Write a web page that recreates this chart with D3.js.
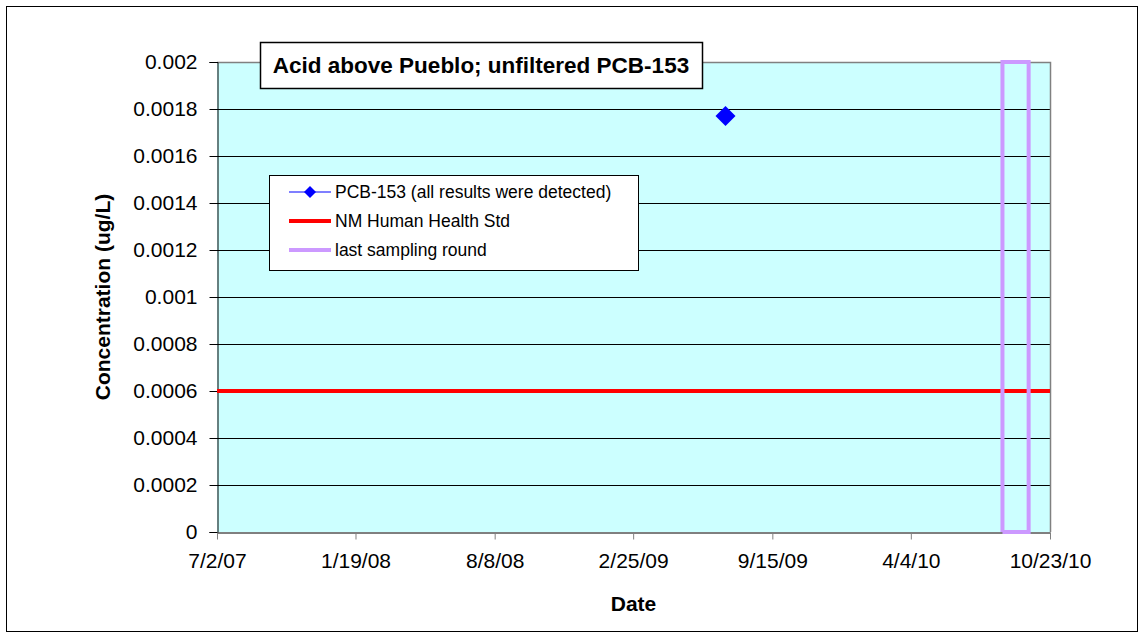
<!DOCTYPE html>
<html>
<head>
<meta charset="utf-8">
<script src="https://cdn.jsdelivr.net/npm/d3@7"></script>
<style>
  body { margin: 0; background: #fff; }
  text { font-family: Arial, "Liberation Sans", sans-serif; }
</style>
</head>
<body>
<svg id="chart" width="1144" height="638"></svg>
<script>
// ---- data ----
const chartTitle = "Acid above Pueblo; unfiltered PCB-153";
const xTitle = "Date";
const yTitle = "Concentration (ug/L)";

const xTickLabels = ["7/2/07", "1/19/08", "8/8/08", "2/25/09", "9/15/09", "4/4/10", "10/23/10"];
const yTickValues = [0, 0.0002, 0.0004, 0.0006, 0.0008, 0.001, 0.0012, 0.0014, 0.0016, 0.0018, 0.002];
const yTickLabels = ["0", "0.0002", "0.0004", "0.0006", "0.0008", "0.001", "0.0012", "0.0014", "0.0016", "0.0018", "0.002"];

const pcbDates = ["2009-07-09"];
const pcbValues = [0.00177];

const stdDates = ["2007-07-02", "2010-10-23"];
const stdValues = [0.0006, 0.0006];

const lastRoundDates = ["2010-08-15", "2010-08-15", "2010-09-22", "2010-09-22", "2010-08-15"];
const lastRoundValues = [0, 0.002, 0.002, 0, 0];

const legendLabels = ["PCB-153 (all results were detected)", "NM Human Health Std", "last sampling round"];

// ---- setup ----
const svg = d3.select("#chart");
const W = 1144, H = 638;
const plot = { left: 217, right: 1050, top: 62, bottom: 532 };

const parseTick = d3.utcParse("%m/%d/%y");
const parseIso = d3.utcParse("%Y-%m-%d");
const tickDates = xTickLabels.map(parseTick);

const x = d3.scaleUtc()
  .domain([tickDates[0], tickDates[tickDates.length - 1]])
  .range([plot.left, plot.right]);
const y = d3.scaleLinear().domain([0, 0.002]).range([plot.bottom, plot.top]);

// outer border
svg.append("rect").attr("x", 6.5).attr("y", 6.5).attr("width", W - 13).attr("height", H - 13)
  .attr("fill", "#fff").attr("stroke", "#000").attr("stroke-width", 1);

// plot background
svg.append("rect").attr("x", plot.left).attr("y", plot.top)
  .attr("width", plot.right - plot.left).attr("height", plot.bottom - plot.top)
  .attr("fill", "#CCFFFF");

// gridlines
svg.append("g").selectAll("line").data(yTickValues.filter(v => v > 0)).join("line")
  .attr("x1", plot.left).attr("x2", plot.right)
  .attr("y1", d => Math.round(y(d)) + 0.5).attr("y2", d => Math.round(y(d)) + 0.5)
  .attr("stroke", "#000").attr("stroke-width", 1);

// plot border (top/right gray)
svg.append("path")
  .attr("d", `M${plot.left},${plot.top + 0.5}H${plot.right + 0.5}V${plot.bottom}`)
  .attr("fill", "none").attr("stroke", "#808080").attr("stroke-width", 1.5);

// y axis
const yAxis = d3.axisLeft(y).tickValues(yTickValues)
  .tickFormat((d, i) => yTickLabels[i]).tickSize(8).tickPadding(12);
const gy = svg.append("g").attr("transform", `translate(${plot.left + 0.5},0)`).call(yAxis);
gy.select(".domain").attr("stroke", "#000");
gy.selectAll(".tick line").attr("stroke", "#000");
gy.selectAll(".tick text").attr("font-size", 21).attr("fill", "#000")
  .style("font-family", "Arial, 'Liberation Sans', sans-serif");

// x axis
const xAxis = d3.axisBottom(x).tickValues(tickDates)
  .tickFormat((d, i) => xTickLabels[i]).tickSize(7).tickSizeOuter(0).tickPadding(14);
const gx = svg.append("g").attr("transform", `translate(0,${plot.bottom + 0.5})`).call(xAxis);
gx.select(".domain").attr("stroke", "#000");
gx.selectAll(".tick line").attr("stroke", "#808080");
gx.selectAll(".tick text").attr("font-size", 21).attr("fill", "#000")
  .style("font-family", "Arial, 'Liberation Sans', sans-serif");

// standard line
const line = d3.line().x(d => x(d[0])).y(d => y(d[1]));
svg.append("path")
  .datum(stdDates.map((d, i) => [parseIso(d), stdValues[i]]))
  .attr("d", line).attr("fill", "none").attr("stroke", "#FF0000").attr("stroke-width", 4);

// last sampling round
svg.append("path")
  .datum(lastRoundDates.map((d, i) => [parseIso(d), lastRoundValues[i]]))
  .attr("d", line).attr("fill", "none").attr("stroke", "#CC99FF").attr("stroke-width", 4)
  .attr("stroke-linejoin", "miter");

// PCB points
const diamond = (cx, cy, r) => `M${cx},${cy - r}L${cx + r},${cy}L${cx},${cy + r}L${cx - r},${cy}Z`;
svg.append("g").selectAll("path").data(pcbDates.map((d, i) => [parseIso(d), pcbValues[i]])).join("path")
  .attr("d", d => diamond(x(d[0]), y(d[1]), 10))
  .attr("fill", "#0000FF");

// title box
const tg = svg.append("g");
tg.append("rect").attr("x", 260.5).attr("y", 42.5).attr("width", 442).attr("height", 46)
  .attr("fill", "#fff").attr("stroke", "#000").attr("stroke-width", 1.5);
tg.append("text").attr("x", 481).attr("y", 73).attr("text-anchor", "middle")
  .attr("font-size", 22.5).attr("font-weight", "bold").text(chartTitle);

// legend
const lg = svg.append("g");
lg.append("rect").attr("x", 269.5).attr("y", 175.5).attr("width", 369).attr("height", 95)
  .attr("fill", "#fff").attr("stroke", "#000").attr("stroke-width", 1);
const legY = [192, 221, 250];
const legStyles = [
  { color: "#0000FF", width: 1.2 },
  { color: "#FF0000", width: 4 },
  { color: "#CC99FF", width: 4 }
];
legendLabels.forEach((lab, i) => {
  lg.append("line").attr("x1", 289).attr("x2", 331).attr("y1", legY[i]).attr("y2", legY[i])
    .attr("stroke", legStyles[i].color).attr("stroke-width", legStyles[i].width);
  if (i === 0) {
    lg.append("path").attr("d", diamond(310, legY[i], 6)).attr("fill", "#0000FF");
  }
  lg.append("text").attr("x", 335).attr("y", legY[i] + 6).attr("font-size", 17.5)
    .attr("fill", "#000").text(lab);
});

// axis titles
svg.append("text").attr("x", (plot.left + plot.right) / 2).attr("y", 611)
  .attr("text-anchor", "middle").attr("font-size", 21).attr("font-weight", "bold").text(xTitle);
svg.append("text")
  .attr("transform", `translate(110,${(plot.top + plot.bottom) / 2}) rotate(-90)`)
  .attr("text-anchor", "middle").attr("font-size", 21).attr("font-weight", "bold").text(yTitle);
</script>
</body>
</html>
